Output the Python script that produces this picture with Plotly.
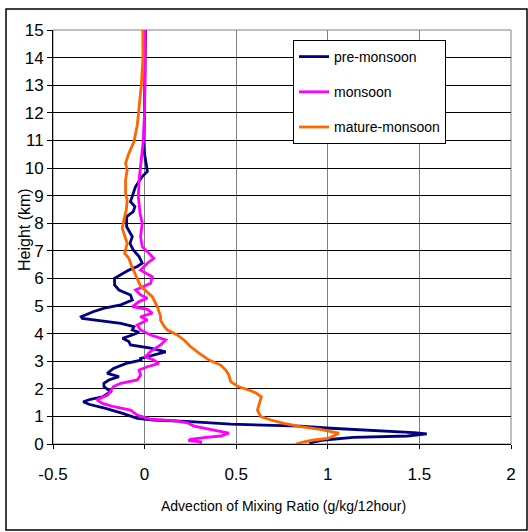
import plotly.graph_objects as go

# Heights (km) and advection values (g/kg/12hour)
pre_h = [0.02, 0.05, 0.145, 0.24, 0.29, 0.37, 0.41, 0.48, 0.57, 0.65, 0.72, 0.81, 0.87, 0.93,
         1.11, 1.29, 1.44, 1.53, 1.62, 1.71, 1.9, 2.08, 2.2, 2.32, 2.44, 2.56, 2.74, 2.92, 3.04,
         3.1, 3.22, 3.34, 3.47, 3.59, 3.71, 3.83, 3.95, 4.05, 4.13, 4.25, 4.37, 4.49, 4.55, 4.61,
         4.8, 4.92, 5.04, 5.22, 5.4, 5.58, 5.76, 6.0, 6.18, 6.3, 6.43, 6.55, 6.79, 7.03, 7.27,
         7.51, 7.87, 8.24, 8.42, 8.6, 8.78, 8.97, 9.32, 9.69, 9.87, 10.1, 10.5, 11, 12, 13, 14, 15]
pre_v = [0.90, 0.907, 0.98, 1.14, 1.435, 1.54, 1.47, 1.25, 1.016, 0.85, 0.47, 0.25, 0.05, -0.04,
         -0.12, -0.213, -0.304, -0.335, -0.295, -0.23, -0.186, -0.222, -0.222, -0.195, -0.14, -0.204, -0.17, -0.1, -0.02,
         -0.022, 0.05, 0.115, 0.033, -0.077, -0.086, -0.12, -0.067, -0.03, -0.067, -0.058, -0.13, -0.268, -0.34, -0.346,
         -0.277, -0.22, -0.13, -0.067, -0.077, -0.14, -0.164, -0.164, -0.12, -0.086, -0.04, -0.013, -0.03, -0.062, -0.08,
         -0.067, -0.098, -0.098, -0.062, -0.053, -0.077, -0.067, -0.05, -0.013, 0.015, 0.01, 0.0, -0.003, 0.0, 0.003, 0.005, 0.005]

mon_h = [0, 0.08, 0.12, 0.17, 0.23, 0.29, 0.39, 0.45, 0.53, 0.65, 0.77, 0.85, 0.9, 1.05, 1.23, 1.35,
         1.47, 1.6, 1.78, 1.9, 2.08, 2.2, 2.32, 2.5, 2.68, 2.8, 2.92, 3.04, 3.16, 3.34, 3.47, 3.59,
         3.77, 3.95, 4.13, 4.31, 4.49, 4.61, 4.74, 4.88, 4.98, 5.16, 5.28, 5.4, 5.58, 5.82, 6.06, 6.3,
         6.55, 6.73, 6.91, 7.15, 7.51, 8.0, 8.36, 8.97, 9.57, 10.1, 10.29, 11, 12, 13, 14, 15]
mon_v = [0.306, 0.306, 0.24, 0.25, 0.324, 0.415, 0.46, 0.415, 0.343, 0.27, 0.233, 0.16, 0.03, -0.04, -0.077, -0.168,
         -0.23, -0.26, -0.2, -0.186, -0.17, -0.13, -0.04, -0.022, -0.03, 0.015, 0.078, 0.05, 0.005, 0.03, 0.06, 0.087,
         0.115, 0.033, -0.022, -0.04, 0.015, -0.022, 0.042, 0.015, -0.067, -0.03, 0.015, -0.022, -0.049, 0.033, 0.042, -0.022,
         0.015, 0.05, 0.024, -0.013, -0.022, -0.013, -0.025, -0.034, -0.03, -0.022, -0.018, -0.007, 0.0, 0.003, 0.003, 0.003]

mat_h = [0, 0.08, 0.145, 0.2, 0.29, 0.39, 0.45, 0.53, 0.63, 0.75, 0.87, 0.99, 1.23, 1.47, 1.71, 1.84,
         1.93, 2.08, 2.26, 2.5, 2.68, 2.86, 3.04, 3.29, 3.53, 3.77, 3.95, 4.13, 4.28, 4.49, 4.64, 4.98,
         5.34, 5.72, 6.09, 6.45, 6.73, 6.91, 7.27, 7.63, 7.81, 8.12, 8.48, 8.84, 9.08, 9.57, 9.93, 10.17,
         10.53, 10.95, 11.56, 12, 13, 14, 15]
mat_v = [0.825, 0.87, 0.925, 1.0, 1.03, 1.06, 1.016, 0.96, 0.852, 0.76, 0.69, 0.634, 0.616, 0.625, 0.637, 0.61,
         0.58, 0.51, 0.47, 0.46, 0.443, 0.415, 0.352, 0.297, 0.25, 0.215, 0.178, 0.124, 0.105, 0.087, 0.087, 0.069,
         0.042, -0.022, -0.049, -0.071, -0.086, -0.109, -0.095, -0.113, -0.122, -0.113, -0.1, -0.095, -0.104, -0.104, -0.095, -0.104,
         -0.086, -0.058, -0.04, -0.033, -0.018, -0.009, -0.01]

x_ticks = [-0.5, 0, 0.5, 1, 1.5, 2]
x_ticktext = ["-0.5", "0", "0.5", "1", "1.5", "2"]
y_ticks = list(range(0, 16))

x_title = "Advection of Mixing Ratio (g/kg/12hour)"
y_title = "Height (km)"

series = [("pre-monsoon", pre_v, pre_h, "#000080"),
          ("monsoon", mon_v, mon_h, "#FF00FF"),
          ("mature-monsoon", mat_v, mat_h, "#FF6600")]

FONT = "Liberation Sans, Arial, sans-serif"

fig = go.Figure()
for i, (name, xv, yv, col) in enumerate(series):
    fig.add_trace(go.Scatter(x=xv, y=yv, mode="lines", name=name, legendgroup=str(i),
                             line=dict(color=col, width=2.8)))

L, R, T, B = 53, 17, 30, 88
W, H = 528, 532
pw, ph = W - L - R, H - T - B

def px(x):
    return (x - L) / pw

def py(y):
    return (H - B - y) / ph

fig.update_layout(
    width=W, height=H,
    margin=dict(l=L, r=R, t=T, b=B),
    paper_bgcolor="white", plot_bgcolor="white",
    font=dict(family=FONT, color="black"),
    showlegend=True,
    legend=dict(x=px(293), y=py(40), xanchor="left", yanchor="top",
                bgcolor="white", bordercolor="black", borderwidth=1,
                font=dict(size=14, family=FONT), traceorder="grouped", tracegroupgap=14,
                itemwidth=30),
    xaxis=dict(range=[-0.5, 2], tickvals=x_ticks, ticktext=x_ticktext,
               showgrid=True, gridcolor="#808080", gridwidth=1,
               showline=True, linecolor="black", linewidth=1,
               ticks="outside", ticklen=4, tickcolor="black",
               tickfont=dict(size=17), ticklabelstandoff=11,
               zeroline=False),
    yaxis=dict(range=[0, 15], tickvals=y_ticks,
               showgrid=True, gridcolor="black", gridwidth=1,
               showline=True, linecolor="black", linewidth=1,
               ticks="outside", ticklen=5, tickcolor="black",
               tickfont=dict(size=17), zeroline=False),
    annotations=[
        dict(text=x_title, xref="paper", yref="paper", x=px(283), y=py(506),
             xanchor="center", yanchor="middle", showarrow=False, font=dict(size=14)),
        dict(text=y_title, xref="paper", yref="paper", x=px(24), y=py(230),
             xanchor="center", yanchor="middle", showarrow=False, textangle=-90,
             font=dict(size=16)),
    ],
    shapes=[
        dict(type="rect", xref="paper", yref="paper", x0=0, x1=1, y0=0, y1=1,
             line=dict(color="#808080", width=1), layer="below"),
        dict(type="rect", xref="paper", yref="paper", x0=px(6), x1=px(527), y0=py(530), y1=py(9),
             line=dict(color="black", width=1.5), layer="above"),
    ],
)

fig.write_html("out.html", config={"displayModeBar": False},
               post_script="document.body.style.margin='0';")
